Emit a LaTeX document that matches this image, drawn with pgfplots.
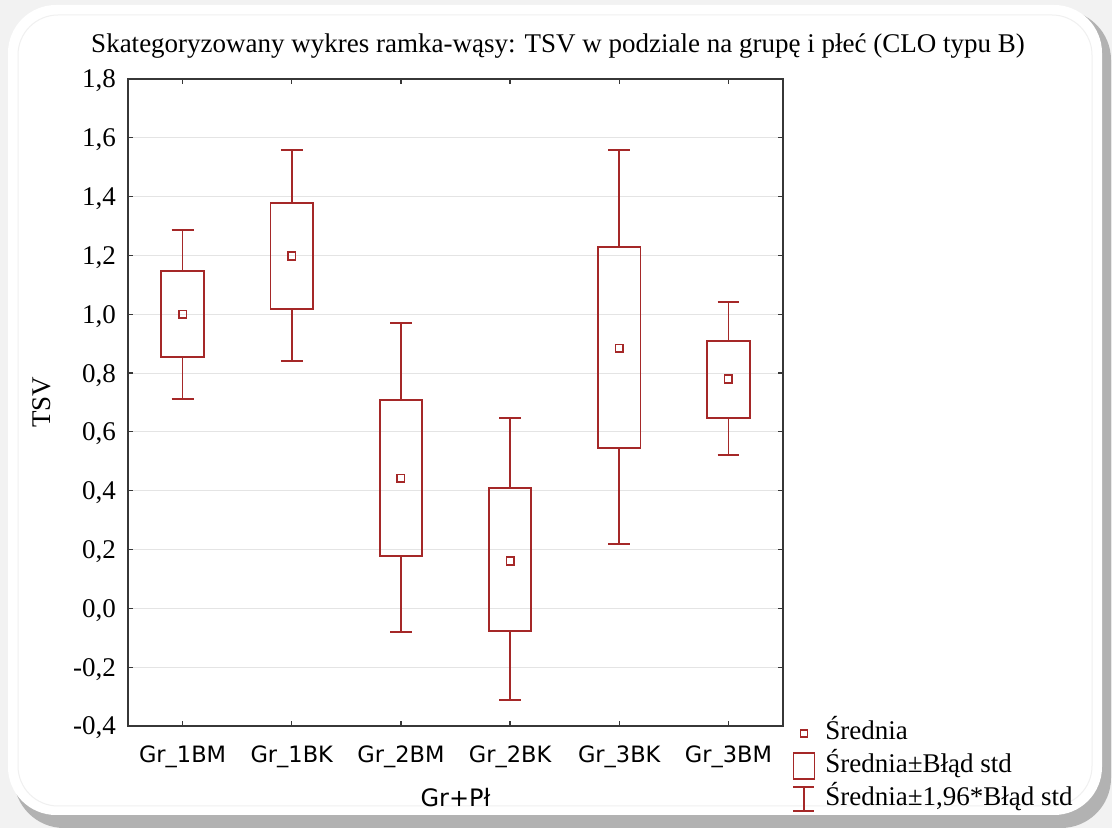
\documentclass[border=0pt]{standalone}
\usepackage{pgfplots}
\pgfplotsset{compat=1.18}
\usepgfplotslibrary{statistics}
\usepackage{fontspec}
\setmainfont{Liberation Serif}
\newfontfamily\sansf{DejaVu Sans}
\definecolor{boxred}{RGB}{165,40,40}
\definecolor{axgray}{RGB}{55,55,55}
\definecolor{gridgray}{RGB}{228,228,228}
\begin{document}
\begin{tikzpicture}[x=1bp,y=1bp]
% frame decoration
\fill[gray!10] (0,0) rectangle (1112,828);
\fill[gray!60, rounded corners=50bp] (14,0) rectangle (1111,818);
\fill[white, rounded corners=48bp] (8,13) rectangle (1102,823);
\draw[gray!12, line width=1bp, rounded corners=40bp] (18,22) rectangle (1092,813);
\node[anchor=base, font=\fontsize{27bp}{30bp}\selectfont, inner sep=0pt] at (558,775) {Skategoryzowany wykres ramka-wąsy: TSV w podziale na grupę i płeć (CLO typu B)};
\begin{axis}[
  at={(128bp,102bp)}, anchor=south west,
  scale only axis, width=655bp, height=647bp,
  xmin=-0.5, xmax=5.5, ymin=-0.4, ymax=1.8,
  xtick={0,1,2,3,4,5},
  xticklabels={Gr\_1BM,Gr\_1BK,Gr\_2BM,Gr\_2BK,Gr\_3BK,Gr\_3BM},
  ytick={-0.4,-0.2,0,0.2,0.4,0.6,0.8,1.0,1.2,1.4,1.6,1.8},
  tick align=inside, major tick length=5bp,
  tick style={axgray, line width=1.2bp},
  axis line style={axgray, line width=1.6bp},
  ymajorgrids, grid style={gridgray, line width=1bp},
  /pgf/number format/assume math mode=true,
  /pgf/number format/.cd, use comma, fixed, fixed zerofill, precision=1, /pgfplots/.cd,
  yticklabel style={font=\fontsize{27bp}{30bp}\selectfont, inner sep=0pt, anchor=east, xshift=-12bp, text height=18bp, text depth=0bp},
  xticklabel style={font=\sansf\fontsize{22.5bp}{26bp}\selectfont, inner sep=0pt, anchor=north, yshift=-20bp, text height=16bp, text depth=0bp},
  ylabel={TSV},
  ylabel style={font=\fontsize{27bp}{30bp}\selectfont, at={(axis description cs:-0.131,0.5)}, anchor=center},
  xlabel={Gr+Pł},
  xlabel style={font=\sansf\fontsize{24bp}{28bp}\selectfont, at={(axis description cs:0.5,-0.11)}, anchor=center},
  legend style={at={(axis description cs:1.0099,0.012)}, anchor=north west, draw=none, fill=none,
    font=\fontsize{27bp}{30bp}\selectfont, row sep=6bp,
    /tikz/every odd column/.append style={column sep=10bp},
    nodes={inner sep=0pt, text height=19bp, text depth=7bp}},
  legend cell align=left,
  boxplot/draw direction=y,
]
\pgfplotsset{mybox/.style={boxplot prepared={#1, box extend=0.39, whisker extend=0.2,
   every median/.style={draw=none}}}}
\addplot[forget plot, boxred, line width=1.8bp, mybox={draw position=0, lower whisker=0.712, lower quartile=0.854, median=1.0, upper quartile=1.147, upper whisker=1.286}] coordinates {};
\addplot[forget plot, boxred, line width=1.8bp, mybox={draw position=1, lower whisker=0.841, lower quartile=1.018, median=1.198, upper quartile=1.378, upper whisker=1.558}] coordinates {};
\addplot[forget plot, boxred, line width=1.8bp, mybox={draw position=2, lower whisker=-0.081, lower quartile=0.178, median=0.443, upper quartile=0.708, upper whisker=0.970}] coordinates {};
\addplot[forget plot, boxred, line width=1.8bp, mybox={draw position=3, lower whisker=-0.312, lower quartile=-0.078, median=0.161, upper quartile=0.409, upper whisker=0.647}] coordinates {};
\addplot[forget plot, boxred, line width=1.8bp, mybox={draw position=4, lower whisker=0.218, lower quartile=0.545, median=0.885, upper quartile=1.229, upper whisker=1.558}] coordinates {};
\addplot[forget plot, boxred, line width=1.8bp, mybox={draw position=5, lower whisker=0.521, lower quartile=0.647, median=0.780, upper quartile=0.909, upper whisker=1.041}] coordinates {};
\addplot[forget plot, only marks, mark=square, mark size=3.8bp, boxred, mark options={line width=1.5bp}] coordinates {(0,1.0) (1,1.198) (2,0.443) (3,0.161) (4,0.885) (5,0.780)};
\addlegendimage{legend image code/.code={\draw[boxred, line width=1.4bp] (7.2bp,-3.5bp) rectangle (14.2bp,3.5bp);}}
\addlegendentry{Średnia}
\addlegendimage{legend image code/.code={\draw[boxred, line width=1.6bp] (0bp,-13bp) rectangle (21bp,13bp);}}
\addlegendentry{Średnia±Błąd std}
\addlegendimage{legend image code/.code={\draw[boxred, line width=1.6bp] (10.5bp,12bp) -- (10.5bp,-12bp) (0bp,12bp) -- (21bp,12bp) (0bp,-12bp) -- (21bp,-12bp);}}
\addlegendentry{Średnia±1,96*Błąd std}
\end{axis}
\end{tikzpicture}
\end{document}
